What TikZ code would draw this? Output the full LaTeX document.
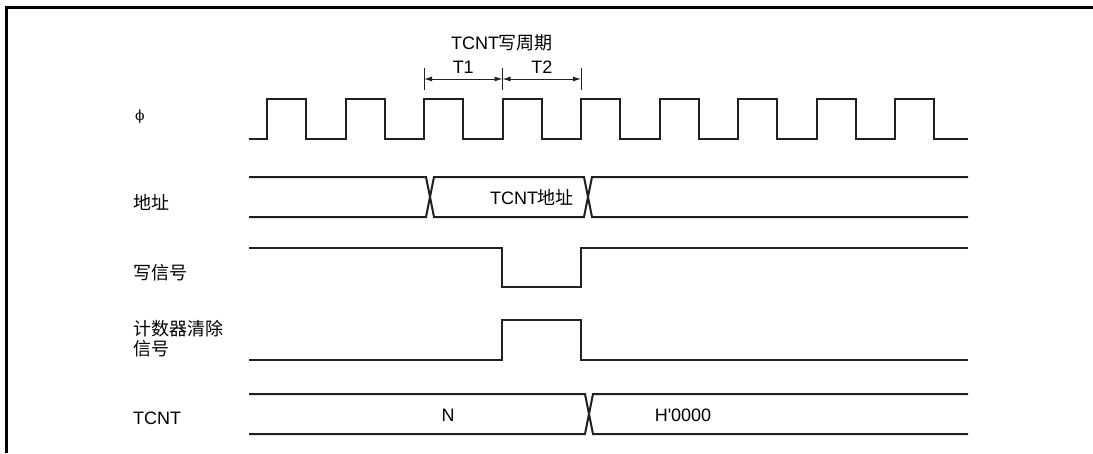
\documentclass[tikz,border=0pt]{standalone}
\usepackage{fontspec}
\setmainfont{Liberation Sans}
\newfontfamily\cjk{Noto Sans CJK SC}
\newfontfamily\phifont{DejaVu Serif}
\usepackage{tikz}
\usetikzlibrary{arrows.meta, positioning, calc}
\definecolor{sigblack}{HTML}{231F20}

\tikzset{
  siglbl/.style={anchor=west, inner sep=0pt, align=left, font=\fontsize{18}{22}\selectfont},
  wave/.style={sigblack, line width=2pt, line join=miter},
  tickln/.style={sigblack, line width=1pt},
  spanarrow/.style={sigblack, line width=1pt, {Latex[length=8pt,width=5pt]}-{Latex[length=8pt,width=5pt]}},
  txt/.style={inner sep=0pt, font=\fontsize{18}{20}\selectfont}
}

\begin{document}
\begin{tikzpicture}[x=1pt, y=-1pt]

    % =================================================================
    % LAYER 0: PAGE AND FRAME
    % =================================================================
    \useasboundingbox (0,0) rectangle (1093,453);
    \draw[black, line width=3pt] (6,453) -- (6,7) -- (1093,7);

    % =================================================================
    % LAYER 1: SIGNAL NAMES
    % =================================================================
    \node[siglbl, font=\fontsize{14}{16}\phifont] (phi) at (135,117) {ϕ};
    \node[siglbl] (addr) at (133,202) {\cjk 地址};
    \node[siglbl] (wr) at (133,273) {\cjk 写信号};
    \node[siglbl] (clr) at (133,339) {\cjk 计数器清除\\[-2pt]\cjk 信号};
    \node[siglbl] (tcnt) at (133,418) {TCNT};

    % =================================================================
    % LAYER 2: WRITE CYCLE DIMENSION
    % =================================================================
    \coordinate (t1s) at (424,79);
    \coordinate (t1e) at (502.5,79);
    \coordinate (t2e) at (581,79);
    \foreach \c in {t1s, t1e, t2e}
        \draw[tickln] ($(\c)+(0,-11)$) -- ($(\c)+(0,11)$);
    \draw[spanarrow] (t1s) -- (t1e);
    \draw[spanarrow] (t1e) -- (t2e);
    \node[txt, above=5pt] (lt1) at ($(t1s)!0.5!(t1e)$) {T1};
    \node[txt, above=5pt] (lt2) at ($(t1e)!0.5!(t2e)$) {T2};
    \node[txt] (cyc) at (502,43) {TCNT{\cjk 写周期}};

    % =================================================================
    % LAYER 3: CLOCK
    % =================================================================
    \draw[wave] (249,139)
        \foreach \k in {0,...,8} {
            -- (267+78.5*\k,139) -- (267+78.5*\k,99)
            -- (306+78.5*\k,99) -- (306+78.5*\k,139)
        } -- (968,139);

    % =================================================================
    % LAYER 4: ADDRESS BUS
    % =================================================================
    \draw[wave] (249,177) -- (426,177) -- (434,217) -- (584,217) -- (592,177) -- (968,177);
    \draw[wave] (249,217) -- (426,217) -- (434,177) -- (584,177) -- (592,217) -- (968,217);
    \node[txt] (addrval) at (532,197) {TCNT{\cjk 地址}};

    % =================================================================
    % LAYER 5: WRITE AND CLEAR STROBES
    % =================================================================
    \draw[wave] (249,248) -- (502,248) -- (502,287) -- (581,287) -- (581,248) -- (968,248);
    \draw[wave] (249,360) -- (502,360) -- (502,320) -- (581,320) -- (581,360) -- (968,360);

    % =================================================================
    % LAYER 6: COUNTER VALUE
    % =================================================================
    \draw[wave] (249,394) -- (585,394) -- (593,434) -- (968,434);
    \draw[wave] (249,434) -- (585,434) -- (593,394) -- (968,394);
    \node[txt] (valn) at (448,415) {N};
    \node[txt] (valz) at (683,415) {H\textquotesingle 0000};

\end{tikzpicture}
\end{document}
